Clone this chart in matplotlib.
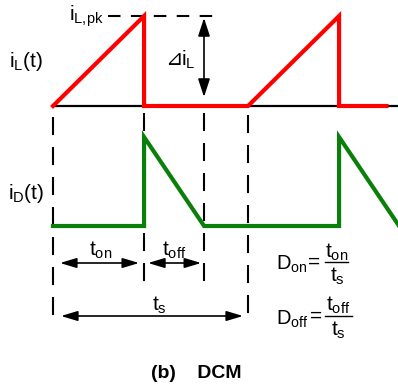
import matplotlib
matplotlib.use('Agg')
import matplotlib.pyplot as plt
import numpy as np

plt.rcParams['font.family'] = ['Liberation Sans', 'DejaVu Sans']
plt.rcParams['mathtext.fontset'] = 'custom'
plt.rcParams['mathtext.rm'] = 'Liberation Sans'
plt.rcParams['lines.scale_dashes'] = False

# Tempos normalizados (periodo T_s = 1)
T_s = 1.0
t_on = 0.467
t_off = 0.308
t_end = 1.71

# Formas de onda (tempo, valor normalizado)
iL_t = [0, t_on, t_on, T_s, T_s + t_on, T_s + t_on, t_end]
iL_v = [0, 1, 0, 0, 1, 0, 0]
iD_t = [0, t_on, t_on, t_on + t_off, T_s + t_on, T_s + t_on, T_s + t_on + t_off]
iD_v = [0, 0, 1, 0, 0, 1, 0]

# Escala do desenho (pixels)
x0, px_per_T = 53, 195
yL0, ampL = 106, 90
yD0, ampD = 226, 89


def tx(t):
    return x0 + np.asarray(t) * px_per_T


fig = plt.figure(figsize=(3.98, 3.89), dpi=100)
ax = fig.add_axes([0, 0, 1, 1])
ax.set_xlim(0, 398)
ax.set_ylim(389, 0)
ax.axis('off')

# Linha de base de i_L
ax.plot([tx(0), 398], [yL0, yL0], color='black', lw=1.6, zorder=2)

# Formas de onda
ax.plot(tx(iL_t), yL0 - ampL * np.array(iL_v), color='#ff0000', lw=3.0,
        solid_joinstyle='miter', zorder=3)
ax.plot(tx(iD_t), yD0 - ampD * np.array(iD_v), color='#0a800a', lw=3.0,
        solid_joinstyle='miter', zorder=3)

# Linhas tracejadas verticais
dash_v = (0, (13, 8.6))
for t, y_top, y_bot in [(0, 117, 318), (t_on, 113, 289),
                        (t_on + t_off, 113, 289), (T_s, 115, 315)]:
    ax.plot([tx(t), tx(t)], [y_top, y_bot], color='black', lw=1.5,
            linestyle=dash_v, zorder=1)

# Linha tracejada do pico
ax.plot([108, 214], [yL0 - ampL, yL0 - ampL], color='black', lw=1.5,
        linestyle=(0, (9, 7.5)), zorder=1)

# Seta de delta i_L
ax.annotate('', xy=(204, yL0 - ampL + 2), xytext=(204, yL0 - 9),
            arrowprops=dict(arrowstyle='<|-|>,head_length=0.55,head_width=0.18',
                            mutation_scale=20, lw=1.2, color='black',
                            shrinkA=0, shrinkB=0))

# Setas de tempo
arrow_h = dict(arrowstyle='<|-|>,head_length=0.5,head_width=0.15',
               mutation_scale=20, lw=1.2, color='black', shrinkA=0, shrinkB=0)
ax.annotate('', xy=(tx(0) + 7, 263), xytext=(tx(t_on) - 5, 263), arrowprops=arrow_h)
ax.annotate('', xy=(tx(t_on) + 4, 263), xytext=(tx(t_on + t_off) - 3, 263), arrowprops=arrow_h)
ax.annotate('', xy=(tx(0) + 8, 316), xytext=(tx(T_s) - 5, 316), arrowprops=arrow_h)

fs = 15
m = lambda s: r'$\mathregular{' + s + '}$'

ax.text(9, 61, m('i_L(t)'), fontsize=fs, ha='left', va='center')
ax.text(8, 193, m('i_D(t)'), fontsize=fs, ha='left', va='center')
ax.text(69, 16, m('i_{L{,}pk}'), fontsize=fs, ha='left', va='center')
ax.text(165, 59, '\u22bf', fontsize=15, ha='left', va='center',
        family=['DejaVu Sans'])
ax.text(181, 60, m('i_L'), fontsize=fs, ha='left', va='center')

ax.text(101, 250, m('t_{on}'), fontsize=fs, ha='center', va='center')
ax.text(174, 250, m('t_{off}'), fontsize=fs, ha='center', va='center')
ax.text(159, 305, m('t_s'), fontsize=fs, ha='center', va='center')

# Razoes ciclicas
ax.text(276, 264, m('D_{on}'), fontsize=14.5, ha='left', va='center')
ax.text(308, 262, '=', fontsize=fs, ha='left', va='center')
ax.plot([325, 348], [262, 262], color='black', lw=1.0)
ax.text(337, 252, m('t_{on}'), fontsize=fs, ha='center', va='center')
ax.text(337, 276, m('t_s'), fontsize=fs, ha='center', va='center')

ax.text(276, 319, m('D_{off}'), fontsize=14.5, ha='left', va='center')
ax.text(310, 316, '=', fontsize=fs, ha='left', va='center')
ax.plot([325, 352], [316, 316], color='black', lw=1.0)
ax.text(338, 305, m('t_{off}'), fontsize=fs, ha='center', va='center')
ax.text(338, 330, m('t_s'), fontsize=fs, ha='center', va='center')

ax.text(196, 373, '(b)    DCM', fontsize=14, fontweight='bold', ha='center', va='center')

fig.savefig('out.png', dpi=100)
